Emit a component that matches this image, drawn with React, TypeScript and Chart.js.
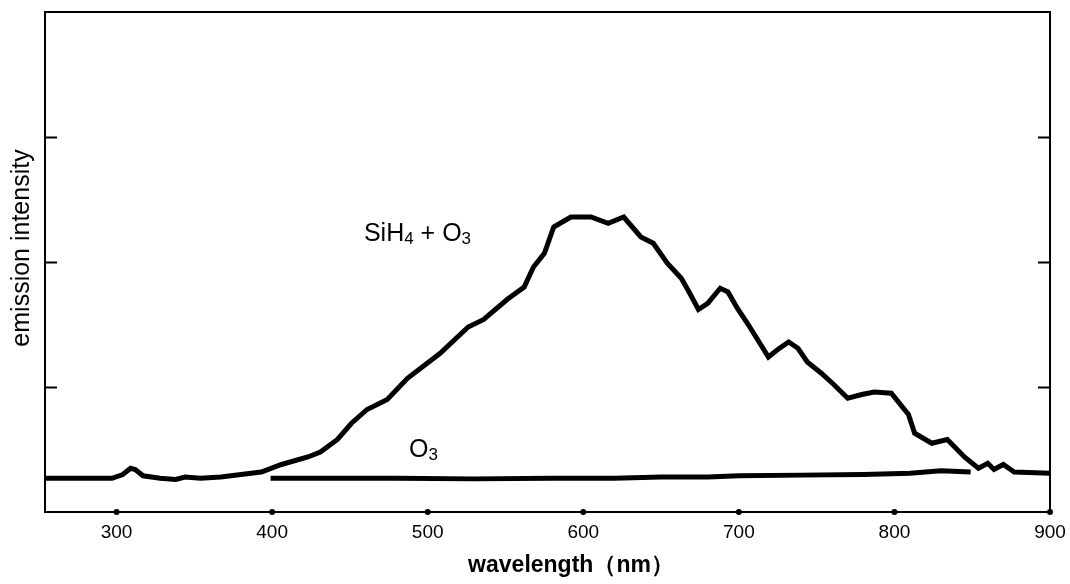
import React, { useEffect, useRef } from "react";
import { Chart, registerables } from "chart.js";

Chart.register(...registerables);

// ---- data ----
const xTickValues = [300, 400, 500, 600, 700, 800, 900];
const yTickValues = [1, 2, 3];
const X_MIN = 254;
const X_MAX = 900;
const Y_MIN = 0;
const Y_MAX = 4;

const siWavelength = [
  254, 264, 280, 297, 304, 309, 312, 317, 328, 338, 344, 354, 367, 380, 393, 406,
  423, 431, 442, 451, 461, 474, 487, 508, 526, 536, 551, 562, 568, 575, 581, 592,
  605, 616, 626, 637, 645, 654, 663, 668, 674, 680, 688, 693, 699, 706, 714, 719,
  725, 732, 738, 744, 753, 761, 770, 779, 787, 798, 809, 813, 824, 834, 845, 854,
  860, 864, 870, 877, 900,
];
const siIntensity = [
  0.27, 0.27, 0.27, 0.27, 0.3, 0.35, 0.34, 0.29, 0.27, 0.26, 0.28, 0.27, 0.28, 0.3, 0.32, 0.38,
  0.44, 0.48, 0.58, 0.71, 0.82, 0.9, 1.07, 1.27, 1.48, 1.54, 1.7, 1.8, 1.96, 2.07, 2.28, 2.36,
  2.36, 2.31, 2.36, 2.2, 2.15, 1.99, 1.87, 1.76, 1.62, 1.67, 1.79, 1.76, 1.63, 1.5, 1.34, 1.24,
  1.3, 1.36, 1.31, 1.2, 1.11, 1.02, 0.91, 0.94, 0.96, 0.95, 0.78, 0.63, 0.55, 0.58, 0.44, 0.35,
  0.39, 0.34, 0.38, 0.32, 0.31,
];

const o3Wavelength = [399, 430, 480, 530, 580, 620, 650, 680, 700, 740, 780, 810, 830, 849];
const o3Intensity = [0.27, 0.27, 0.27, 0.265, 0.27, 0.27, 0.28, 0.28, 0.29, 0.295, 0.3, 0.31, 0.33, 0.32];

const siLabelPos = { x: 459, y: 2.17 };
const o3LabelPos = { x: 488, y: 0.44 };

const FONT = '"Liberation Sans", Arial, Helvetica, sans-serif';

const annotPlugin = {
  id: "annot",
  afterDraw(chart: any) {
    const { ctx, chartArea } = chart;
    const xs = chart.scales.x;
    const ys = chart.scales.y;
    ctx.save();
    ctx.fillStyle = "#000";
    // tick dots on x axis
    for (const v of xTickValues) {
      const px = xs.getPixelForValue(v);
      ctx.beginPath();
      ctx.arc(px, chartArea.bottom, 3, 0, Math.PI * 2);
      ctx.fill();
    }
    // chemical labels
    const drawChem = (parts: [string, boolean][], x0: number, y0: number) => {
      let cx = x0;
      ctx.textAlign = "left";
      ctx.textBaseline = "alphabetic";
      for (const [t, sub] of parts) {
        ctx.font = sub ? `17px ${FONT}` : `25px ${FONT}`;
        ctx.fillText(t, cx, sub ? y0 + 3 : y0);
        cx += ctx.measureText(t).width;
      }
    };
    drawChem(
      [["SiH", false], ["4", true], [" + ", false], ["O", false], ["3", true]],
      xs.getPixelForValue(siLabelPos.x),
      ys.getPixelForValue(siLabelPos.y)
    );
    drawChem(
      [["O", false], ["3", true]],
      xs.getPixelForValue(o3LabelPos.x),
      ys.getPixelForValue(o3LabelPos.y)
    );
    // axis titles
    ctx.font = `bold 23px ${FONT}`;
    ctx.textAlign = "center";
    ctx.textBaseline = "middle";
    ctx.fillText("wavelength（nm）", 571, 566);
    ctx.translate(22, 248);
    ctx.rotate(-Math.PI / 2);
    ctx.font = `25px ${FONT}`;
    ctx.fillText("emission intensity", 0, 0);
    ctx.restore();
  },
};

export default function App() {
  const ref = useRef<HTMLCanvasElement | null>(null);
  useEffect(() => {
    if (!ref.current) return;
    const yTicks = (s: any) => {
      s.ticks = yTickValues.map((v) => ({ value: v }));
    };
    const chart = new Chart(ref.current, {
      type: "line",
      data: {
        datasets: [
          {
            label: "SiH4 + O3",
            data: siWavelength.map((x, i) => ({ x, y: siIntensity[i] })),
            borderColor: "#000",
            borderWidth: 5,
            pointRadius: 0,
            tension: 0,
            xAxisID: "x",
            yAxisID: "y",
          },
          {
            label: "O3",
            data: o3Wavelength.map((x, i) => ({ x, y: o3Intensity[i] })),
            borderColor: "#000",
            borderWidth: 5,
            pointRadius: 0,
            tension: 0,
            xAxisID: "x",
            yAxisID: "y",
          },
        ],
      },
      options: {
        animation: false,
        responsive: true,
        maintainAspectRatio: false,
        layout: { padding: 0 },
        plugins: { legend: { display: false }, tooltip: { enabled: false } },
        scales: {
          x: {
            type: "linear",
            position: "bottom",
            min: X_MIN,
            max: X_MAX,
            afterBuildTicks: (s: any) => {
              s.ticks = xTickValues.map((v) => ({ value: v }));
            },
            afterFit: (s: any) => {
              s.height = 72;
              s.paddingLeft = 0;
              s.paddingRight = 0;
            },
            grid: { display: false, drawTicks: false },
            border: { display: true, color: "#000", width: 2 },
            ticks: {
              color: "#000",
              padding: 9,
              maxRotation: 0,
              autoSkip: false,
              font: { family: FONT, size: 19 },
              callback: (v: any) => String(v),
            },
          },
          x2: {
            type: "linear",
            position: "top",
            min: X_MIN,
            max: X_MAX,
            afterFit: (s: any) => {
              s.height = 12;
              s.paddingLeft = 0;
              s.paddingRight = 0;
            },
            grid: { display: false, drawTicks: false },
            border: { display: true, color: "#000", width: 2 },
            ticks: { display: false },
          },
          y: {
            type: "linear",
            position: "left",
            min: Y_MIN,
            max: Y_MAX,
            afterBuildTicks: yTicks,
            afterFit: (s: any) => {
              s.width = 45;
              s.paddingTop = 0;
              s.paddingBottom = 0;
            },
            grid: {
              display: true,
              drawOnChartArea: false,
              drawTicks: true,
              tickLength: -12,
              tickWidth: 2,
              tickColor: "#000",
            },
            border: { display: true, color: "#000", width: 2 },
            ticks: { display: false },
          },
          y2: {
            type: "linear",
            position: "right",
            min: Y_MIN,
            max: Y_MAX,
            afterBuildTicks: yTicks,
            afterFit: (s: any) => {
              s.width = 20;
              s.paddingTop = 0;
              s.paddingBottom = 0;
            },
            grid: {
              display: true,
              drawOnChartArea: false,
              drawTicks: true,
              tickLength: -12,
              tickWidth: 2,
              tickColor: "#000",
            },
            border: { display: true, color: "#000", width: 2 },
            ticks: { display: false },
          },
        },
      },
      plugins: [annotPlugin],
    });
    return () => chart.destroy();
  }, []);
  return (
    <div
      style={{
        position: "absolute",
        left: 0,
        top: 0,
        width: 1070,
        height: 584,
        background: "#fff",
      }}
    >
      <canvas ref={ref} />
    </div>
  );
}
